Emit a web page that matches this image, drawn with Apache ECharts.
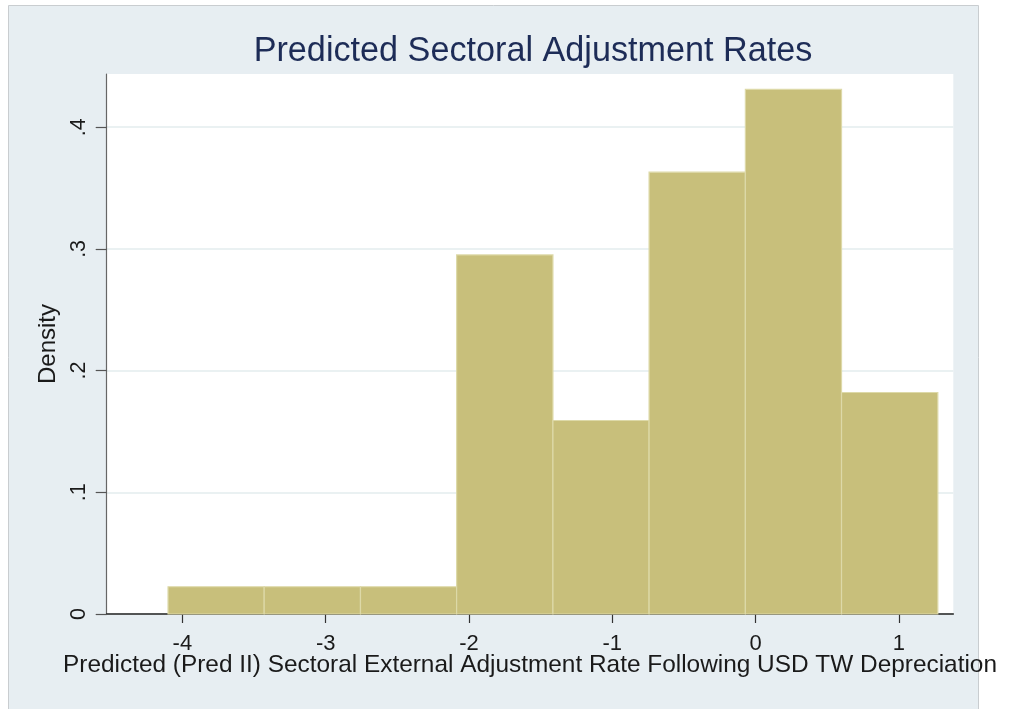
<!DOCTYPE html>
<html>
<head>
<meta charset="utf-8">
<script src="https://cdn.jsdelivr.net/npm/echarts@6/dist/echarts.min.js"></script>
<style>
html,body{margin:0;padding:0;background:#fff;}
#chart{width:1012px;height:709px;}
</style>
</head>
<body>
<div id="chart"></div>
<script>
// Histogram bin edges (x) and densities (y)
const binEdges = [-4.100, -3.429, -2.757, -2.086, -1.414, -0.743, -0.071, 0.600, 1.272];
const densities = [0.0224, 0.0224, 0.0224, 0.295, 0.159, 0.363, 0.431, 0.182];
const xTickValues = [-4, -3, -2, -1, 0, 1];
const yTickValues = [0, 0.1, 0.2, 0.3, 0.4];
const titleText = 'Predicted Sectoral Adjustment Rates';
const xTitle = 'Predicted (Pred II) Sectoral External Adjustment Rate Following USD TW Depreciation';
const yTitle = 'Density';

const histData = densities.map((d, i) => [binEdges[i], binEdges[i + 1], d]);

const chart = echarts.init(document.getElementById('chart'));
const FONT = 'Liberation Sans, Arial, Helvetica, sans-serif';

chart.setOption({
  backgroundColor: '#ffffff',
  animation: false,
  graphic: [{
    type: 'rect',
    z: -100,
    silent: true,
    shape: { x: 8.5, y: 5.5, width: 970, height: 704 },
    style: { fill: '#e7eef2', stroke: '#c9cdd0', lineWidth: 1 }
  }],
  title: {
    text: titleText,
    left: 528,
    textAlign: 'center',
    top: 30,
    textStyle: { color: '#1d2c57', fontFamily: FONT, fontSize: 34.2, fontWeight: 'normal' }
  },
  grid: {
    left: 106.7, right: 58.7, top: 74, bottom: 95,
    show: true, backgroundColor: '#ffffff', borderWidth: 0,
    containLabel: false
  },
  xAxis: {
    type: 'value',
    min: -4.528, max: 1.38,
    name: xTitle,
    nameLocation: 'middle',
    nameGap: 39,
    nameMoveOverlap: false,
    nameTextStyle: { color: '#1a1a1a', fontFamily: FONT, fontSize: 24.4 },
    axisLine: { show: true, onZero: false, lineStyle: { color: '#222', width: 1.5 } },
    axisTick: { show: true, length: 9, customValues: xTickValues, lineStyle: { color: '#333', width: 1.2 } },
    axisLabel: {
      customValues: xTickValues, margin: 19,
      color: '#1a1a1a', fontFamily: FONT, fontSize: 22,
      formatter: v => String(v)
    },
    splitLine: { show: false }
  },
  yAxis: {
    type: 'value',
    min: 0, max: 0.4437,
    name: yTitle,
    nameLocation: 'middle',
    nameGap: 46,
    nameRotate: 90,
    nameMoveOverlap: false,
    nameTextStyle: { color: '#1a1a1a', fontFamily: FONT, fontSize: 24 },
    axisLine: { show: true, onZero: false, lineStyle: { color: '#666', width: 1.2 } },
    axisTick: { show: true, length: 11, customValues: yTickValues, lineStyle: { color: '#555', width: 1.2 } },
    axisLabel: {
      customValues: yTickValues, rotate: 90, margin: 17,
      color: '#1a1a1a', fontFamily: FONT, fontSize: 21.5,
      formatter: v => (Math.abs(v) < 1e-9 ? '0' : String(Math.round(v * 10) / 10).replace(/^0/, ''))
    },
    splitLine: { show: true, lineStyle: { color: '#e3edee', width: 1.6 } }
  },
  series: [{
    type: 'custom',
    data: histData,
    encode: { x: [0, 1], y: 2 },
    z: 3,
    renderItem: function (params, api) {
      const p0 = api.coord([api.value(0), api.value(2)]);
      const p1 = api.coord([api.value(1), 0]);
      return {
        type: 'rect',
        shape: { x: p0[0], y: p0[1], width: p1[0] - p0[0], height: p1[1] - p0[1] },
        style: { fill: '#c8bf7b', stroke: '#ddd9a8', lineWidth: 1.2 }
      };
    }
  }]
});
</script>
</body>
</html>
